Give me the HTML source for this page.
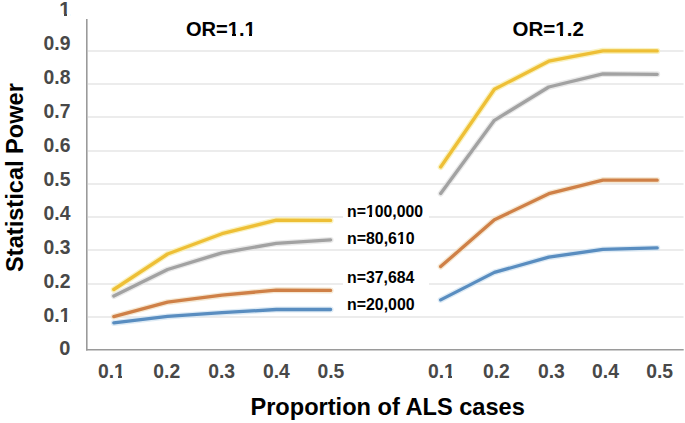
<!DOCTYPE html>
<html><head><meta charset="utf-8"><style>
html,body{margin:0;padding:0;background:#fff;}
body{width:685px;height:423px;overflow:hidden;position:relative;}
svg{position:absolute;left:0;top:0;}
text{font-family:"Liberation Sans",sans-serif;font-weight:bold;}
.tk{font-size:20px;fill:#484848;}
.t20{font-size:20.8px;fill:#000;}
.lg{font-size:16.4px;fill:#000;}
.ax{font-size:23.6px;fill:#000;}
</style></head><body>
<svg width="685" height="423" viewBox="0 0 685 423">
<rect x="88" y="50" width="595.5" height="2" fill="#ECECEC"/>
<rect x="88" y="83" width="595.5" height="2" fill="#ECECEC"/>
<rect x="88" y="116" width="595.5" height="2" fill="#ECECEC"/>
<rect x="88" y="150" width="595.5" height="2" fill="#ECECEC"/>
<rect x="88" y="183" width="595.5" height="2" fill="#ECECEC"/>
<rect x="88" y="216" width="595.5" height="2" fill="#ECECEC"/>
<rect x="88" y="249" width="595.5" height="2" fill="#ECECEC"/>
<rect x="88" y="283" width="595.5" height="2" fill="#ECECEC"/>
<rect x="88" y="316" width="595.5" height="2" fill="#ECECEC"/>
<rect x="343" y="204" width="86" height="17" fill="#fff"/>
<rect x="343" y="271" width="86" height="17" fill="#fff"/>
<line x1="86.8" y1="18.9" x2="86.8" y2="350.5" stroke="#9A9A9A" stroke-width="1.6"/>
<line x1="86" y1="349.7" x2="683.7" y2="349.7" stroke="#9A9A9A" stroke-width="1.6"/>
<polyline points="113.80,322.90 167.60,316.40 222.00,312.70 276.30,309.50 330.60,309.50" fill="none" stroke="#D6E6F2" stroke-width="6" stroke-linejoin="round" stroke-linecap="round" opacity="0.8"/>
<polyline points="113.80,316.60 167.60,302.20 222.00,295.20 276.30,290.10 330.60,290.40" fill="none" stroke="#F2E2C8" stroke-width="6" stroke-linejoin="round" stroke-linecap="round" opacity="0.8"/>
<polyline points="113.80,296.00 167.60,269.50 222.00,252.80 276.30,243.40 330.60,239.90" fill="none" stroke="#E4E4E4" stroke-width="6" stroke-linejoin="round" stroke-linecap="round" opacity="0.8"/>
<polyline points="113.80,289.50 167.60,254.00 222.00,233.70 276.30,220.10 330.60,220.40" fill="none" stroke="#F7EFB0" stroke-width="6" stroke-linejoin="round" stroke-linecap="round" opacity="0.8"/>
<polyline points="440.70,299.90 494.40,272.40 548.80,257.20 602.90,249.40 657.20,247.90" fill="none" stroke="#D6E6F2" stroke-width="6" stroke-linejoin="round" stroke-linecap="round" opacity="0.8"/>
<polyline points="440.70,266.60 494.40,219.80 548.80,193.70 602.90,180.10 657.20,180.20" fill="none" stroke="#F2E2C8" stroke-width="6" stroke-linejoin="round" stroke-linecap="round" opacity="0.8"/>
<polyline points="440.70,193.50 494.40,120.30 548.80,87.00 602.90,73.90 657.20,74.30" fill="none" stroke="#E4E4E4" stroke-width="6" stroke-linejoin="round" stroke-linecap="round" opacity="0.8"/>
<polyline points="440.70,167.00 494.40,89.30 548.80,61.20 602.90,50.80 657.20,50.90" fill="none" stroke="#F7EFB0" stroke-width="6" stroke-linejoin="round" stroke-linecap="round" opacity="0.8"/>
<polyline points="113.80,322.90 167.60,316.40 222.00,312.70 276.30,309.50 330.60,309.50" fill="none" stroke="#598DC0" stroke-width="3.3" stroke-linejoin="round" stroke-linecap="round"/>
<polyline points="113.80,316.60 167.60,302.20 222.00,295.20 276.30,290.10 330.60,290.40" fill="none" stroke="#CF8047" stroke-width="3.3" stroke-linejoin="round" stroke-linecap="round"/>
<polyline points="113.80,296.00 167.60,269.50 222.00,252.80 276.30,243.40 330.60,239.90" fill="none" stroke="#A2A2A2" stroke-width="3.3" stroke-linejoin="round" stroke-linecap="round"/>
<polyline points="113.80,289.50 167.60,254.00 222.00,233.70 276.30,220.10 330.60,220.40" fill="none" stroke="#EEBF36" stroke-width="3.3" stroke-linejoin="round" stroke-linecap="round"/>
<polyline points="440.70,299.90 494.40,272.40 548.80,257.20 602.90,249.40 657.20,247.90" fill="none" stroke="#598DC0" stroke-width="3.3" stroke-linejoin="round" stroke-linecap="round"/>
<polyline points="440.70,266.60 494.40,219.80 548.80,193.70 602.90,180.10 657.20,180.20" fill="none" stroke="#CF8047" stroke-width="3.3" stroke-linejoin="round" stroke-linecap="round"/>
<polyline points="440.70,193.50 494.40,120.30 548.80,87.00 602.90,73.90 657.20,74.30" fill="none" stroke="#A2A2A2" stroke-width="3.3" stroke-linejoin="round" stroke-linecap="round"/>
<polyline points="440.70,167.00 494.40,89.30 548.80,61.20 602.90,50.80 657.20,50.90" fill="none" stroke="#EEBF36" stroke-width="3.3" stroke-linejoin="round" stroke-linecap="round"/>
<text x="70.4" y="355.45" text-anchor="end" class="tk">0</text>
<text x="70.4" y="321.54" text-anchor="end" class="tk" textLength="26.9" lengthAdjust="spacingAndGlyphs">0.1</text>
<text x="70.4" y="287.63" text-anchor="end" class="tk" textLength="26.9" lengthAdjust="spacingAndGlyphs">0.2</text>
<text x="70.4" y="253.72" text-anchor="end" class="tk" textLength="26.9" lengthAdjust="spacingAndGlyphs">0.3</text>
<text x="70.4" y="219.81" text-anchor="end" class="tk" textLength="26.9" lengthAdjust="spacingAndGlyphs">0.4</text>
<text x="70.4" y="185.90" text-anchor="end" class="tk" textLength="26.9" lengthAdjust="spacingAndGlyphs">0.5</text>
<text x="70.4" y="151.99" text-anchor="end" class="tk" textLength="26.9" lengthAdjust="spacingAndGlyphs">0.6</text>
<text x="70.4" y="118.08" text-anchor="end" class="tk" textLength="26.9" lengthAdjust="spacingAndGlyphs">0.7</text>
<text x="70.4" y="84.17" text-anchor="end" class="tk" textLength="26.9" lengthAdjust="spacingAndGlyphs">0.8</text>
<text x="70.4" y="50.26" text-anchor="end" class="tk" textLength="26.9" lengthAdjust="spacingAndGlyphs">0.9</text>
<text x="70.4" y="16.35" text-anchor="end" class="tk">1</text>
<text x="111.40" y="378.4" text-anchor="middle" class="tk" textLength="26.9" lengthAdjust="spacingAndGlyphs">0.1</text>
<text x="166.80" y="378.4" text-anchor="middle" class="tk" textLength="26.9" lengthAdjust="spacingAndGlyphs">0.2</text>
<text x="221.60" y="378.4" text-anchor="middle" class="tk" textLength="26.9" lengthAdjust="spacingAndGlyphs">0.3</text>
<text x="276.40" y="378.4" text-anchor="middle" class="tk" textLength="26.9" lengthAdjust="spacingAndGlyphs">0.4</text>
<text x="330.90" y="378.4" text-anchor="middle" class="tk" textLength="26.9" lengthAdjust="spacingAndGlyphs">0.5</text>
<text x="441.40" y="378.4" text-anchor="middle" class="tk" textLength="26.9" lengthAdjust="spacingAndGlyphs">0.1</text>
<text x="496.40" y="378.4" text-anchor="middle" class="tk" textLength="26.9" lengthAdjust="spacingAndGlyphs">0.2</text>
<text x="551.40" y="378.4" text-anchor="middle" class="tk" textLength="26.9" lengthAdjust="spacingAndGlyphs">0.3</text>
<text x="605.50" y="378.4" text-anchor="middle" class="tk" textLength="26.9" lengthAdjust="spacingAndGlyphs">0.4</text>
<text x="659.60" y="378.4" text-anchor="middle" class="tk" textLength="26.9" lengthAdjust="spacingAndGlyphs">0.5</text>
<text x="185.9" y="36.3" class="t20" textLength="69.8" lengthAdjust="spacingAndGlyphs">OR=1.1</text>
<text x="512.6" y="36.3" class="t20" textLength="71.3" lengthAdjust="spacingAndGlyphs">OR=1.2</text>
<text x="347.0" y="217.4" class="lg" textLength="76.0" lengthAdjust="spacingAndGlyphs">n=100,000</text>
<text x="347.0" y="243.7" class="lg" textLength="67.6" lengthAdjust="spacingAndGlyphs">n=80,610</text>
<text x="347.0" y="283.1" class="lg" textLength="67.4" lengthAdjust="spacingAndGlyphs">n=37,684</text>
<text x="347.0" y="309.8" class="lg" textLength="67.6" lengthAdjust="spacingAndGlyphs">n=20,000</text>
<text x="250.4" y="414.7" class="ax">Proportion of ALS cases</text>
<text transform="translate(23,271.9) rotate(-90)" x="0" y="0" class="ax" style="font-size:23.6px">Statistical Power</text>
<rect x="59.02" y="320" width="4.98" height="2" fill="#fff"/>
<rect x="67.00" y="320" width="3.70" height="2" fill="#fff"/>
<rect x="58.68" y="14" width="5.32" height="2" fill="#fff"/>
<rect x="67.00" y="14" width="3.70" height="2" fill="#fff"/>
<rect x="113.47" y="376" width="4.53" height="2" fill="#fff"/>
<rect x="122.00" y="376" width="3.15" height="2" fill="#fff"/>
<rect x="443.47" y="376" width="4.53" height="2" fill="#fff"/>
<rect x="452.00" y="376" width="3.15" height="2" fill="#fff"/>
<rect x="227.15" y="34" width="4.85" height="2" fill="#fff"/>
<rect x="236.00" y="34" width="3.25" height="2" fill="#fff"/>
<rect x="243.90" y="34" width="5.10" height="2" fill="#fff"/>
<rect x="252.00" y="34" width="4.00" height="2" fill="#fff"/>
<rect x="554.75" y="34" width="5.25" height="2" fill="#fff"/>
<rect x="563.00" y="34" width="4.09" height="2" fill="#fff"/>
<rect x="365.27" y="215" width="3.73" height="2" fill="#fff"/>
<rect x="372.00" y="215" width="2.97" height="2" fill="#fff"/>
<rect x="396.32" y="242" width="3.68" height="2" fill="#fff"/>
<rect x="403.00" y="242" width="3.07" height="2" fill="#fff"/>
</svg>
</body></html>
